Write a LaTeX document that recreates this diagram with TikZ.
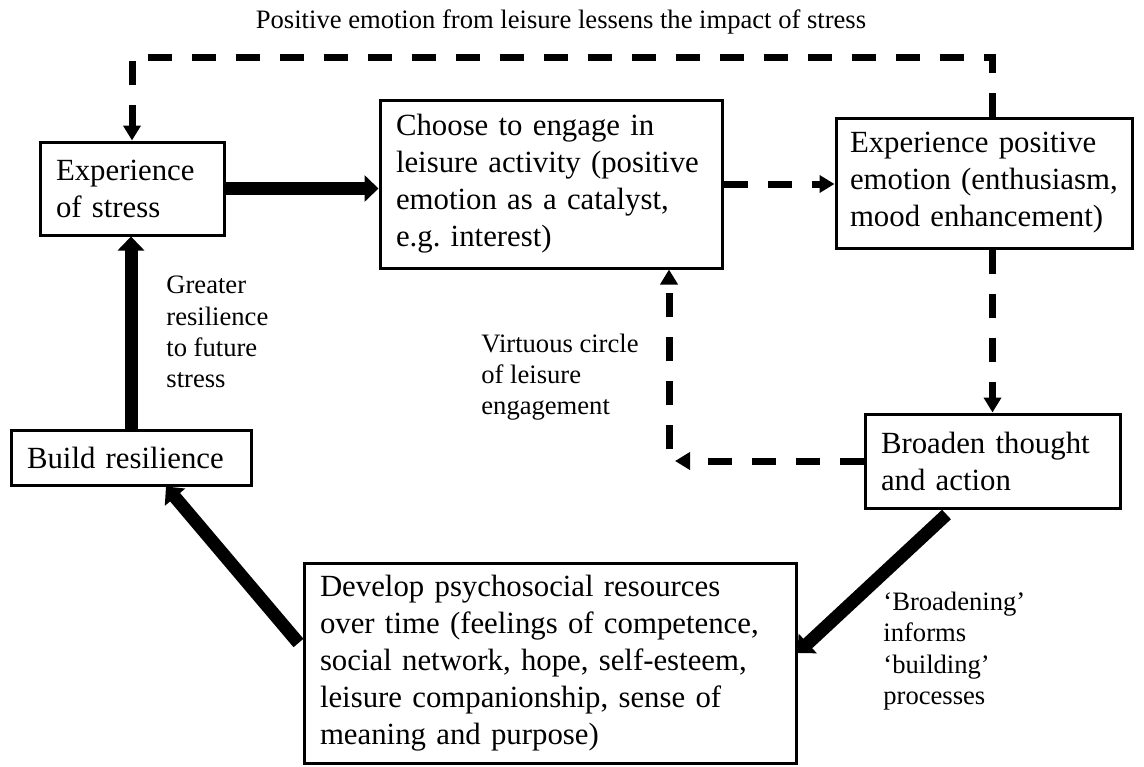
\documentclass[tikz,border=0pt]{standalone}
\usepackage{fontspec}
\setmainfont{Liberation Serif}
\usetikzlibrary{arrows.meta, positioning, calc}

\begin{document}
\begin{tikzpicture}[
    x=0.5pt, y=-0.5pt,
    % Base styles for boxes and labels
    stage/.style={rectangle, draw=black, line width=1.5pt, align=left, inner xsep=8pt, inner ysep=0pt, font=\fontsize{15.4}{18.5}\selectfont},
    note/.style={align=left, inner sep=0pt, anchor=west, font=\fontsize{13.3}{15.6}\selectfont},
    % Solid and dashed connectors
    strong/.style={line width=6.5pt, -{Triangle[length=7pt, width=13pt]}},
    loose/.style={line width=3.5pt, dash pattern=on 12pt off 10pt, -{Triangle[length=7.5pt, width=8.5pt]}}
]
\useasboundingbox (0,0) rectangle (1144,766);

% --- Nodes ---
\node [stage, text width=76pt, minimum height=46.5pt] (stress) at (132,188.5) {Experience\\of stress};
\node [stage, text width=155pt, minimum height=84pt] (choose) at (551,184) {Choose to engage in\\leisure activity (positive\\emotion as a catalyst,\\e.g.\ interest)};
\node [stage, text width=134pt, inner xsep=7pt, minimum height=65pt] (emotion) at (984,183) {Experience positive\\emotion (enthusiasm,\\mood enhancement)};
\node [stage, text width=111.5pt, minimum height=47pt] (broaden) at (992.5,461) {Broaden thought\\and action};
\node [stage, text width=104pt, minimum height=27.5pt] (resilience) at (131,457.5) {Build resilience};
\node [stage, text width=230pt, minimum height=100pt] (develop) at (550,663) {Develop psychosocial resources\\over time (feelings of competence,\\social network, hope, self-esteem,\\leisure companionship, sense of\\meaning and purpose)};

% Labels
\node [note, anchor=center] (title) at (561,22) {Positive emotion from leisure lessens the impact of stress};
\node [note] (greater) at (166,332) {Greater\\resilience\\to future\\stress};
\node [note] (virtuous) at (481,377) {Virtuous circle\\of leisure\\engagement};
\node [note] (informs) at (883,651) {‘Broadening’\\informs\\‘building’\\processes};

% Coordinates for the dashed loops
\coordinate (topR) at (broaden.north |- 0,57);
\coordinate (topL) at (stress.north |- 0,57);
\coordinate (vtxH) at (675,461);
\coordinate (vtxV) at (669,449);

% --- Arrows ---
\draw [strong] (stress.east) -- (stress.east -| choose.west);
\draw [strong] ($(broaden.south)+(-46,5)$) -- ($(develop.east)+(0,-10)$);
\draw [strong] ($(develop.west)+(-4,-20)$) -- ($(resilience.south)+(35,0)$);
\draw [strong] (resilience.north) -- (resilience.north |- stress.south);

% Dashed arrows
\draw [loose] (choose.east) -- (choose.east -| emotion.west);
\draw [loose] (emotion.south -| broaden.north) -- (broaden.north);
\draw [loose] (emotion.north -| broaden.north) -- (topR) -- (topL) -- (stress.north);

% Virtuous circle
\draw [loose] (broaden.west) -- (vtxH);
\draw [loose] (vtxV) -- (vtxV |- choose.south);

\end{tikzpicture}
\end{document}
